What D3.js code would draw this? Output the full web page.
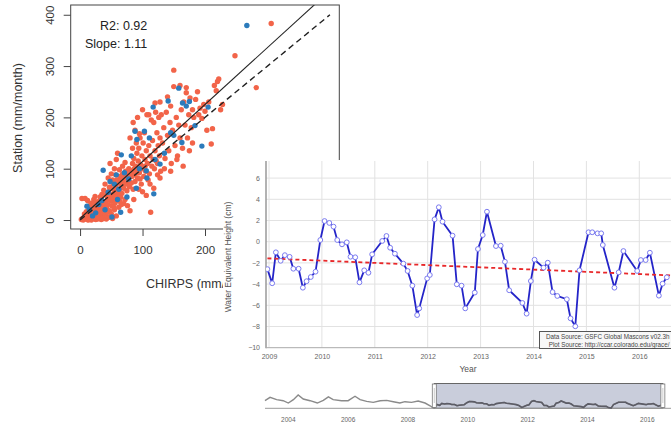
<!DOCTYPE html>
<html><head><meta charset="utf-8">
<script src="https://cdn.jsdelivr.net/npm/d3@7/dist/d3.min.js"></script>
<style>body{margin:0;background:#fff;} svg{display:block;font-family:"Liberation Sans",Arial,sans-serif;}</style>
</head><body>
<svg id="c" width="671" height="425"></svg>
<script>
// ---------- Scatter: CHIRPS vs Station (mm/month) ----------
const redPoints = [
[2,1],[4,3],[5,0],[6,5],[8,2],[9,7],[10,4],[11,10],[12,1],[13,6],[14,12],[15,3],[16,9],[17,15],[18,5],[19,2],[20,11],[21,18],[22,7],[23,14],[24,3],[25,20],[26,9],[27,24],[28,13],[29,5],[30,17],[31,28],[32,10],[33,22],[34,1],[35,15],[36,30],[37,8],[38,19],[39,26],[40,12],[3,42],[8,42],[12,38],[15,28],[18,33],[22,40],[26,35],[24,46],[20,26],[14,20],[10,16],[28,2],[33,4],[38,3],[42,2],[45,5],[7,12],[16,22],[19,8],[23,30],[27,16],[30,36],[34,42],[29,9],[36,23],[40,33],[18,0],[25,1],[31,3],[13,0],[21,4],
[41,35],[42,48],[43,22],[44,40],[45,30],[46,55],[47,18],[48,44],[49,62],[50,37],[51,28],[52,50],[53,70],[54,42],[55,58],[56,33],[57,65],[58,48],[59,78],[60,55],[61,38],[62,72],[63,60],[64,85],[65,45],[66,68],[67,52],[68,90],[69,75],[70,62],[71,82],[72,40],[73,95],[74,70],[75,57],[76,88],[77,78],[78,100],[79,65],[80,85],[45,82],[50,90],[55,100],[58,118],[60,130],[48,110],[40,70],[38,58],[35,50],[32,45],[44,15],[50,12],[55,20],[62,25],[66,30],[70,32],[58,8],[52,3],[47,6],[80,18],[76,28],[43,52],[47,64],[52,78],[57,88],[63,98],[68,105],[72,112],[66,80],[61,50],[56,45],[74,90],[79,74],[54,25],[64,36],
[82,72],[83,95],[84,110],[85,60],[86,120],[87,88],[88,75],[89,105],[90,98],[91,130],[92,82],[93,115],[94,140],[95,92],[96,160],[97,108],[98,70],[99,125],[100,100],[101,150],[102,85],[103,170],[104,118],[105,95],[106,135],[107,205],[108,110],[109,78],[110,145],[111,90],[112,125],[113,15],[114,195],[115,105],[116,155],[117,118],[118,190],[119,100],[120,135],[121,210],[122,115],[123,170],[124,88],[125,145],[126,200],[127,125],[128,160],[129,95],[130,205],[85,190],[88,175],[92,200],[95,168],[80,160],[84,140],[90,150],[86,40],[94,60],[100,55],[106,48],[112,70],[118,62],[124,110],[128,82],[83,85],[87,100],[91,92],[96,80],[104,105],[81,96],
[132,150],[134,180],[136,120],[138,210],[140,165],[142,135],[144,190],[146,110],[148,175],[150,292],[152,145],[154,200],[156,125],[158,185],[160,160],[162,215],[164,140],[166,230],[168,185],[170,248],[172,160],[174,205],[176,238],[178,180],[180,215],[182,200],[185,235],[188,250],[190,205],[192,218],[195,198],[198,225],[200,212],[203,175],[206,230],[210,148],[212,178],[215,262],[218,252],[220,270],[222,275],[225,215],[228,225],[150,260],[160,262],[170,258],[135,100],[145,95],[155,118],[165,105],[175,135],[180,150],[140,240],[128,230],[145,222],[120,228],
[248,320],[282,258],[306,383],[100,215],[110,205]
];
const bluePoints = [
[267,379],[158,257],[141,232],[175,231],[164,228],[170,222],[205,220],[184,184],[195,144],[117,220],[103,173],[88,173],[91,157],[111,160],[66,127],[82,125],[37,97],[128,109],[118,51],[71,92],[58,88],[45,54],[51,6],[106,96],[107,82],[11,27],[163,151],[150,165],[60,40],[30,30],[25,14],[40,20],[55,70],[75,45],[90,62],[20,8],[35,38],[48,75],[65,15],[95,100],[120,118],[135,130],[62,60],[78,80],[15,20],[145,170]
];
const scatterTicks = [0, 100, 200, 300, 400];
const fitSlope = 1.11, fitIntercept = 3;
const statsLabels = ["R2: 0.92", "Slope: 1.11"];
const scatterTitles = {x: "CHIRPS (mm/month)", y: "Station (mm/month)"};

// ---------- GRACE time series ----------
const tsYears = [2008.97,2009.06,2009.13,2009.22,2009.30,2009.39,2009.46,2009.56,2009.64,2009.71,2009.79,2009.88,
2009.97,2010.05,2010.14,2010.22,2010.29,2010.38,2010.47,2010.54,2010.63,2010.71,2010.80,2010.88,
2010.95,2011.14,2011.22,2011.29,2011.38,2011.54,2011.62,2011.71,2011.80,2011.84,2011.99,2012.04,
2012.13,2012.21,2012.28,2012.47,2012.55,2012.64,2012.71,2012.89,2012.95,2013.04,2013.12,2013.29,
2013.38,2013.46,2013.54,2013.79,2013.87,2013.95,2014.02,2014.19,2014.27,2014.36,2014.45,2014.63,
2014.70,2014.79,2014.87,2015.04,2015.11,2015.21,2015.28,2015.31,2015.53,2015.61,2015.70,2015.96,
2016.03,2016.12,2016.20,2016.37,2016.44,2016.52];
const tsValues = [-2.59,-3.92,-1.0,-1.8,-1.27,-1.43,-2.55,-2.55,-4.34,-3.73,-3.33,-2.83,
0.16,1.95,1.77,1.42,0.16,-0.25,-0.06,-1.42,-1.47,-3.83,-2.7,-2.93,
-1.19,0.07,0.54,-0.57,-1.13,-2.07,-2.76,-4.15,-6.92,-6.29,-3.46,-3.14,
2.11,3.25,1.89,0.57,-4.02,-4.15,-6.29,-4.8,-0.69,0.63,2.83,-0.41,
-0.38,-1.89,-4.58,-5.78,-6.79,-3.71,-1.70,-2.45,-1.98,-4.75,-5.12,-5.43,
-7.23,-7.98,-2.70,0.89,0.89,0.79,0.79,-0.31,-4.34,-2.89,-0.88,-2.76,
-1.73,-1.73,-1.04,-5.09,-3.96,-3.36];
const trendYears = [2008.97, 2016.6];
const trendValues = [-1.57, -3.18];
const yearTicks = [2009, 2010, 2011, 2012, 2013, 2014, 2015, 2016];
const valueTicks = [-10, -8, -6, -4, -2, 0, 2, 4, 6];
const navPreYears = [2003.22,2003.39,2003.61,2003.83,2004.0,2004.17,2004.33,2004.5,2004.73,2004.97,2005.17,2005.34,2005.5,2005.78,2006.0,2006.23,2006.4,2006.62,2006.84,2007.07,2007.29,2007.51,2007.73,2007.9,2008.12,2008.34,2008.57,2008.74,2008.85];
const navPreValues = [3.2,8.3,4.8,3.2,-0.3,4.8,12,5.8,3.2,-0.3,3.7,8.9,4.8,3.2,3.2,9.9,4.8,2.2,0.7,3.2,3.7,1.7,-0.3,1.7,0.7,2.7,-0.3,-4.5,-8];
const navTicks = [2004, 2006, 2008, 2010, 2012, 2014, 2016];
const navSelection = [2008.88, 2016.52];
const sourceLines = ["Data Source: GSFC Global Mascons v02.3h", "Plot Source: http://ccar.colorado.edu/grace/"];
const tsTitles = {x: "Year", y: "Water Equivalent Height (cm)"};

const svg = d3.select("#c");
const FONT = '"Liberation Sans",Arial,sans-serif';
const defs = svg.append("defs");

// region of the scatter that the GRACE panel does not cover
const panel = {l: 223, t: 160};
const vis = defs.append("clipPath").attr("id", "visclip");
vis.append("rect").attr("x", 0).attr("y", 0).attr("width", 671).attr("height", panel.t);
vis.append("rect").attr("x", 0).attr("y", panel.t - 1).attr("width", panel.l).attr("height", 425 - panel.t + 1);

// ================= SCATTER =================
const box = {l: 70.7, r: 339.3, t: 5, b: 229};
const sx = d3.scaleLinear().domain([-15, 415]).range([box.l, box.r]);
const sy = d3.scaleLinear().domain([-17.5, 419]).range([box.b, box.t]);
const sc = svg.append("g").attr("clip-path", "url(#visclip)");
defs.append("clipPath").attr("id", "sclip")
  .append("rect").attr("x", box.l).attr("y", box.t).attr("width", box.r - box.l).attr("height", box.b - box.t);

sc.append("g").selectAll("circle").data(redPoints).join("circle")
  .attr("cx", d => sx(d[0])).attr("cy", d => sy(d[1])).attr("r", 2.7).attr("fill", "#f26449");
sc.append("g").selectAll("circle").data(bluePoints).join("circle")
  .attr("cx", d => sx(d[0])).attr("cy", d => sy(d[1])).attr("r", 2.7).attr("fill", "#2c7bbb");

const lg = sc.append("g").attr("clip-path", "url(#sclip)");
lg.append("line").attr("x1", sx(0)).attr("y1", sy(fitIntercept))
  .attr("x2", sx(420)).attr("y2", sy(fitIntercept + fitSlope * 420))
  .attr("stroke", "#222").attr("stroke-width", 1.1);
lg.append("line").attr("x1", sx(0)).attr("y1", sy(0)).attr("x2", sx(400)).attr("y2", sy(400))
  .attr("stroke", "#222").attr("stroke-width", 1.4).attr("stroke-dasharray", "6,4");

sc.append("rect").attr("x", box.l).attr("y", box.t).attr("width", box.r - box.l).attr("height", box.b - box.t)
  .attr("fill", "none").attr("stroke", "#444").attr("stroke-width", 1);

const yax = sc.append("g").attr("transform", `translate(${box.l},0)`)
  .call(d3.axisLeft(sy).tickValues(scatterTicks).tickSize(7).tickFormat(d3.format("d")));
yax.select(".domain").remove();
yax.selectAll("line").attr("stroke", "#444");
yax.selectAll("text").attr("x", null).attr("dy", null)
  .attr("transform", "translate(-21,0) rotate(-90)").attr("text-anchor", "middle").attr("dy", "0.35em")
  .attr("font-size", 11.5).attr("font-family", FONT).attr("fill", "#333");

const xax = sc.append("g").attr("transform", `translate(0,${box.b})`)
  .call(d3.axisBottom(sx).tickValues(scatterTicks.filter(v => sx(v) < panel.l)).tickSize(7).tickFormat(d3.format("d")));
xax.select(".domain").remove();
xax.selectAll("line").attr("stroke", "#444");
xax.selectAll("text").attr("y", 25).attr("dy", null).attr("font-size", 11.5).attr("font-family", FONT).attr("fill", "#333");

sc.append("text").attr("transform", "translate(22,118) rotate(-90)").attr("text-anchor", "middle")
  .attr("font-size", 12.5).attr("fill", "#333").text(scatterTitles.y);
sc.append("text").attr("x", (box.l + box.r) / 2).attr("y", 288).attr("text-anchor", "middle")
  .attr("font-size", 12.5).attr("fill", "#333").text(scatterTitles.x);
sc.append("text").attr("x", 100).attr("y", 30).attr("font-size", 12.5).attr("fill", "#222").text(statsLabels[0]);
sc.append("text").attr("x", 85).attr("y", 48).attr("font-size", 12.5).attr("fill", "#222").text(statsLabels[1]);

// ================= GRACE PANEL =================
const pg = svg.append("g");
pg.append("rect").attr("x", panel.l).attr("y", panel.t).attr("width", 671 - panel.l).attr("height", 425 - panel.t).attr("fill", "#fff");

const plot = {l: 266, r: 671, t: 160, b: 347.7};
const tx = d3.scaleLinear().domain([2009, 2016]).range([269, 639.3]);
const ty = d3.scaleLinear().domain([-10, 8]).range([347.7, 156.9]);
defs.append("clipPath").attr("id", "pclip")
  .append("rect").attr("x", plot.l).attr("y", plot.t).attr("width", plot.r - plot.l).attr("height", plot.b - plot.t);

// grid
const grid = pg.append("g");
grid.selectAll("line.h").data(valueTicks.filter(v => v > -10)).join("line").attr("class", "h")
  .attr("x1", plot.l).attr("x2", plot.r).attr("y1", d => ty(d)).attr("y2", d => ty(d))
  .attr("stroke", "#e2e2e2").attr("stroke-width", 1);
grid.selectAll("line.v").data(yearTicks).join("line").attr("class", "v")
  .attr("x1", d => tx(d)).attr("x2", d => tx(d)).attr("y1", plot.t + 1).attr("y2", plot.b)
  .attr("stroke", "#e2e2e2").attr("stroke-width", 1);

// axes lines
pg.append("line").attr("x1", plot.l).attr("x2", plot.l).attr("y1", plot.t + 1).attr("y2", plot.b + 0.5)
  .attr("stroke", "#999").attr("stroke-width", 1.5);
pg.append("line").attr("x1", plot.l).attr("x2", plot.r).attr("y1", plot.b).attr("y2", plot.b)
  .attr("stroke", "#aaa").attr("stroke-width", 1);

// tick labels
const yT = pg.append("g").attr("transform", `translate(${plot.l},0)`)
  .call(d3.axisLeft(ty).tickValues(valueTicks).tickSize(0).tickPadding(6));
yT.select(".domain").remove();
yT.selectAll("text").attr("font-size", 7).attr("font-family", FONT).attr("fill", "#666");
const xT = pg.append("g").attr("transform", `translate(0,${plot.b})`)
  .call(d3.axisBottom(tx).tickValues(yearTicks).tickSize(0).tickPadding(6).tickFormat(d3.format("d")));
xT.select(".domain").remove();
xT.selectAll("text").attr("font-size", 7).attr("font-family", FONT).attr("fill", "#666");

pg.append("text").attr("x", 468).attr("y", 371.5).attr("text-anchor", "middle")
  .attr("font-size", 8.5).attr("fill", "#555").text(tsTitles.x);
pg.append("text").attr("transform", "translate(231,257) rotate(-90)").attr("text-anchor", "middle")
  .attr("font-size", 8.5).attr("fill", "#555").text(tsTitles.y);

// series
const series = tsYears.map((y, i) => [y, tsValues[i]]);
const sg = pg.append("g").attr("clip-path", "url(#pclip)");
sg.append("path").datum(series)
  .attr("d", d3.line().x(d => tx(d[0])).y(d => ty(d[1])))
  .attr("fill", "none").attr("stroke", "#2424c8").attr("stroke-width", 1.8).attr("stroke-linejoin", "round");
sg.append("path").datum(trendYears.map((y, i) => [y, trendValues[i]]))
  .attr("d", d3.line().x(d => tx(d[0])).y(d => ty(d[1])))
  .attr("fill", "none").attr("stroke", "#e8282a").attr("stroke-width", 1.8).attr("stroke-dasharray", "4,3");
sg.selectAll("circle").data(series).join("circle")
  .attr("cx", d => tx(d[0])).attr("cy", d => ty(d[1])).attr("r", 2.4)
  .attr("fill", "#fff").attr("stroke", "#7a7af0").attr("stroke-width", 1);

// source box
const srcG = pg.append("g");
srcG.append("rect").attr("x", 539.5).attr("y", 331.5).attr("width", 140).attr("height", 17)
  .attr("fill", "#f7f7f7").attr("stroke", "#555").attr("stroke-width", 1);
srcG.selectAll("text").data(sourceLines).join("text")
  .attr("x", 669.5).attr("y", (d, i) => 338.8 + i * 8).attr("text-anchor", "end")
  .attr("font-size", 6.3).attr("fill", "#444").text(d => d);

// ================= NAVIGATOR =================
const nx = d3.scaleLinear().domain([2004, 2016]).range([288.3, 647.3]);
const ny = d3.scaleLinear().domain([-8.6, 30]).range([408.5, 383]);
const navSeries = navPreYears.map((y, i) => [y, navPreValues[i]]).concat(series);
const ng = pg.append("g");
const selX0 = nx(navSelection[0]), selX1 = nx(navSelection[1]);
ng.append("rect").attr("x", selX0).attr("y", 383.5).attr("width", selX1 - selX0).attr("height", 24.8)
  .attr("fill", "#c9cddb").attr("stroke", "#666").attr("stroke-width", 1);
ng.append("line").attr("x1", 265).attr("x2", 671).attr("y1", 408.3).attr("y2", 408.3)
  .attr("stroke", "#999").attr("stroke-width", 1);
const navLine = d3.line().x(d => nx(d[0])).y(d => ny(d[1]));
ng.append("path").datum(navSeries).attr("d", navLine)
  .attr("fill", "none").attr("stroke", "#8a8a8a").attr("stroke-width", 1.4);
defs.append("clipPath").attr("id", "nclip")
  .append("rect").attr("x", selX0).attr("y", 380).attr("width", selX1 - selX0).attr("height", 30);
ng.append("path").datum(navSeries).attr("d", navLine).attr("clip-path", "url(#nclip)")
  .attr("fill", "none").attr("stroke", "#5c5c66").attr("stroke-width", 1.6);
[selX0, selX1].forEach(x => {
  ng.append("rect").attr("x", x - 2).attr("y", 384).attr("width", 4).attr("height", 23.5)
    .attr("fill", "#fff").attr("stroke", "#777").attr("stroke-width", 0.8);
  ng.append("line").attr("x1", x).attr("x2", x).attr("y1", 388).attr("y2", 403)
    .attr("stroke", "#aaa").attr("stroke-width", 0.6);
});
ng.selectAll("text").data(navTicks).join("text")
  .attr("x", d => nx(d)).attr("y", 421.5).attr("text-anchor", "middle")
  .attr("font-size", 6.5).attr("fill", "#666").text(d => d);
</script>
</body></html>
